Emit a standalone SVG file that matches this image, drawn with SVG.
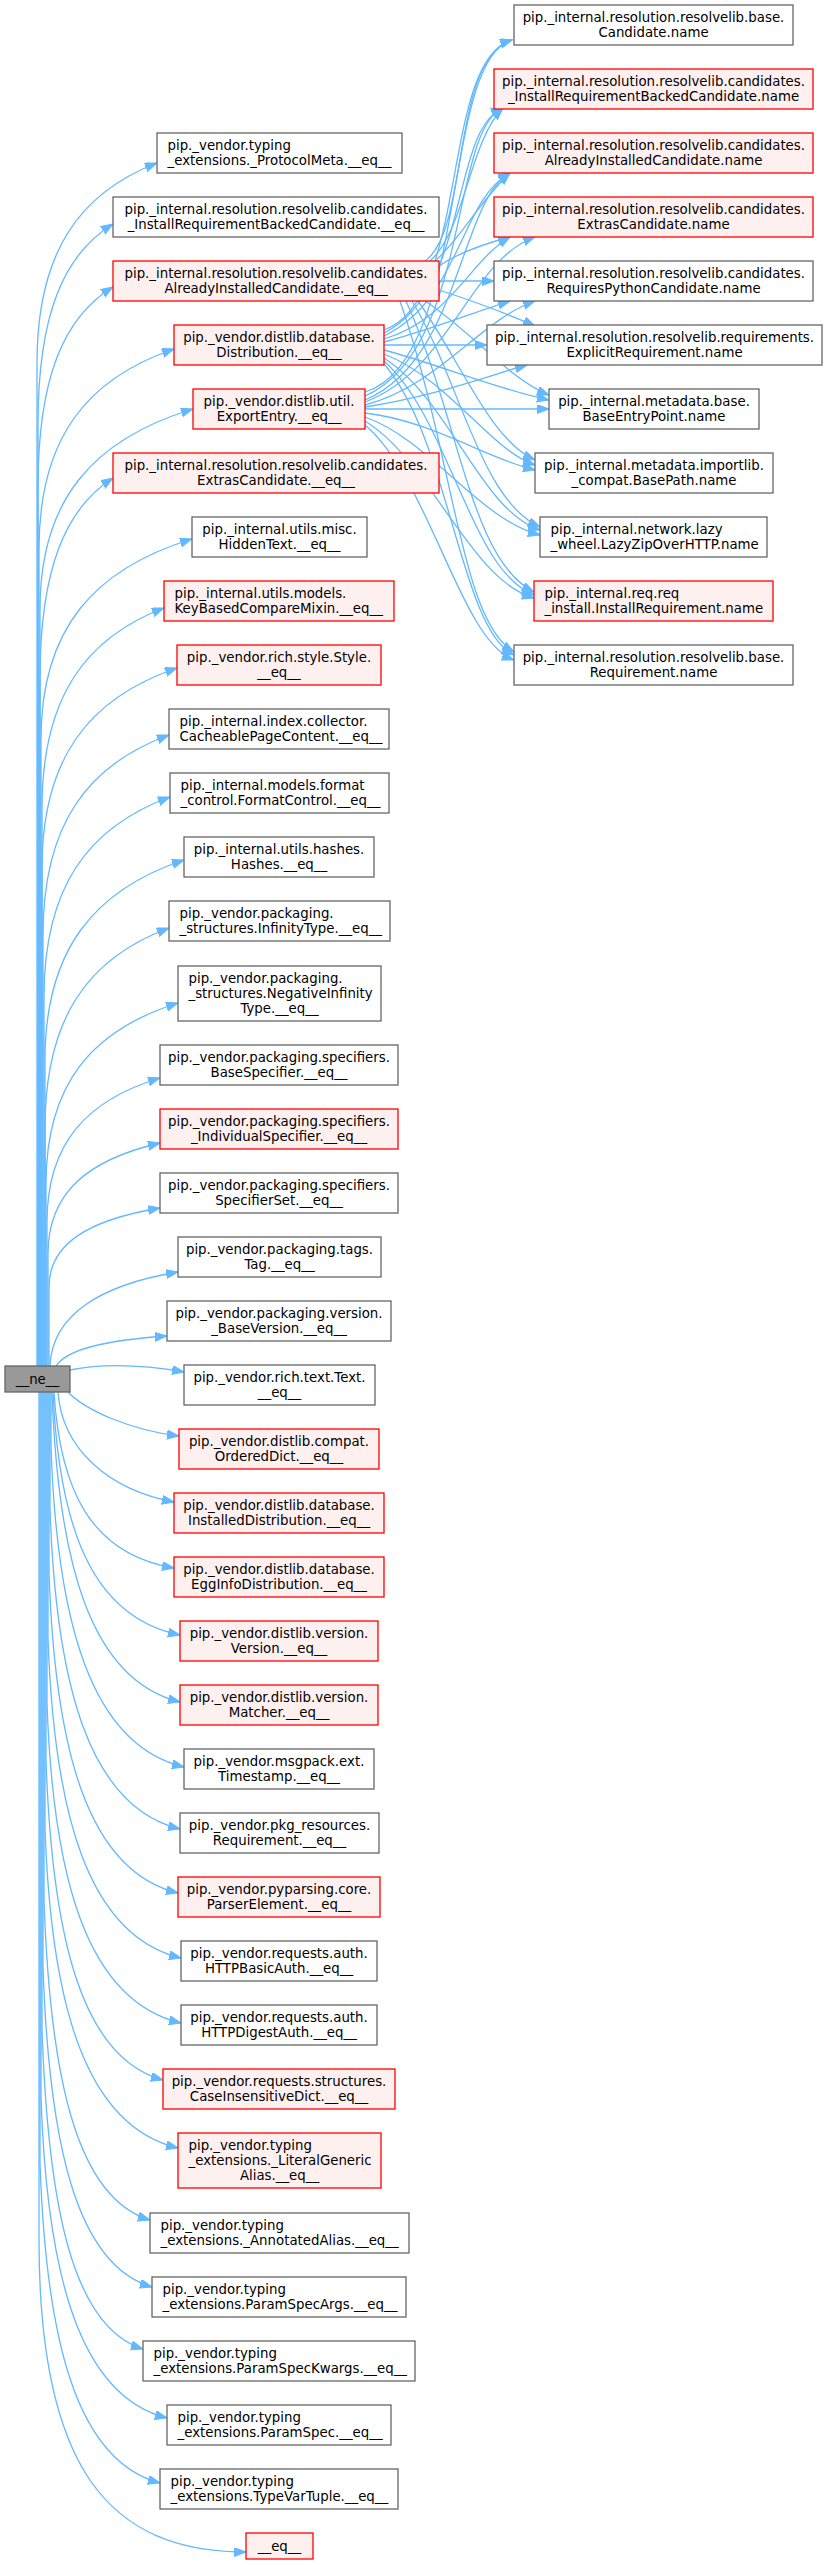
<svg xmlns="http://www.w3.org/2000/svg" width="827" height="2565" viewBox="0 0 827 2565">
<style>
.g{fill:#ffffff;stroke:#666666;stroke-width:1.3}
.r{fill:#fff0f0;stroke:#ff0000;stroke-width:1.3}
.c{fill:#999999;stroke:#666666;stroke-width:1.3}
text{font-family:"DejaVu Sans","Liberation Sans",sans-serif;font-size:13.33px;fill:#000000;text-anchor:middle}
text.l{text-anchor:start}
#edges path{fill:none;stroke:#63b8ff;stroke-width:1.3;marker-end:url(#ah)}
</style>
<defs>
<marker id="ah" markerWidth="13" markerHeight="10" refX="12" refY="4.5" orient="auto" markerUnits="userSpaceOnUse">
<path d="M0,0 L12,4.5 L0,9 z" fill="#63b8ff" stroke="#63b8ff" stroke-width="1"/>
</marker>
</defs>
<rect x="0" y="0" width="827" height="2565" fill="#ffffff"/>
<g id="edges">
<path d="M37,1366 V363 C37,253 79,193 157,163"/>
<path d="M38,1366 V424 C38,314 64,254 113,224"/>
<path d="M38,1366 V487 C38,377 64,317 113,287"/>
<path d="M39,1366 V549 C39,439 86,379 174,349"/>
<path d="M40,1366 V609 C40,499 94,439 193,409"/>
<path d="M40,1366 V678 C40,568 66,508 113,478"/>
<path d="M41,1366 V739 C41,629 94,569 192,539"/>
<path d="M42,1366 V808 C42,698 85,638 164,608"/>
<path d="M42,1366 V868 C42,758 89,698 177,668"/>
<path d="M43,1366 V935 C43,825 87,765 169,735"/>
<path d="M44,1366 V997 C44,887 88,827 170,797"/>
<path d="M45,1366 V1060 C45,950 94,890 184,860"/>
<path d="M45,1366 V1128 C45,1018 88,958 169,928"/>
<path d="M46,1366 V1184 C46,1084 92,1030 178,1003"/>
<path d="M47,1366 V1222 C47,1143 87,1100 160,1078"/>
<path d="M48,1366 V1254 C48,1193 87,1160 160,1143"/>
<path d="M49,1366 V1287 C49,1244 88,1220 160,1208"/>
<path d="M50,1366 C52,1315 100,1285 178,1272"/>
<path d="M56,1366 C68,1348 110,1340 167,1336"/>
<path d="M70,1370 C110,1362 150,1366 184,1372"/>
<path d="M68,1392 C85,1410 130,1430 179,1436"/>
<path d="M58,1392 C62,1450 110,1490 174,1502"/>
<path d="M54,1392 C60,1489 90,1554 174,1568"/>
<path d="M53,1392 C59,1526 91,1617 180,1635"/>
<path d="M52,1392 C58,1562 90,1680 180,1702"/>
<path d="M51,1392 V1447 C57,1623 91,1745 184,1767"/>
<path d="M50,1392 V1509 C56,1685 89,1807 180,1829"/>
<path d="M49,1392 V1573 C55,1749 87,1871 178,1893"/>
<path d="M48,1392 V1638 C54,1814 88,1936 181,1958"/>
<path d="M47,1392 V1703 C53,1879 87,2001 181,2023"/>
<path d="M46,1392 V1760 C52,1936 81,2058 163,2080"/>
<path d="M45,1392 V1828 C51,2004 85,2126 178,2148"/>
<path d="M44,1392 V1900 C50,2076 76,2198 150,2220"/>
<path d="M43,1392 V1967 C49,2143 76,2265 152,2287"/>
<path d="M42,1392 V2029 C48,2205 72,2327 143,2349"/>
<path d="M41,1392 V2098 C47,2274 79,2396 167,2418"/>
<path d="M40,1392 V2163 C46,2339 76,2461 160,2483"/>
<path d="M39,1392 V2240 C39,2470 110,2552 246,2552"/>
<path d="M425,261 C470,230 450,60 512,40"/>
<path d="M430,261 C465,230 470,140 503,108"/>
<path d="M435,261 C460,240 480,200 510,173"/>
<path d="M439,266 C455,255 480,245 510,237"/>
<path d="M439,281 L494,281"/>
<path d="M439,290 C470,300 510,315 535,326"/>
<path d="M425,301 C470,330 510,380 549,395"/>
<path d="M418,301 C460,360 490,440 535,460"/>
<path d="M412,301 C460,380 480,500 540,527"/>
<path d="M406,301 C460,420 470,560 534,592"/>
<path d="M400,301 C455,460 460,620 514,652"/>
<path d="M384,330 C470,300 440,60 512,40"/>
<path d="M384,333 C470,290 450,130 503,108"/>
<path d="M384,336 C460,300 460,200 510,173"/>
<path d="M384,339 C450,320 470,260 510,237"/>
<path d="M384,342 C430,330 480,310 510,301"/>
<path d="M384,345 L487,345"/>
<path d="M384,350 C440,365 500,390 549,400"/>
<path d="M384,354 C450,380 490,450 535,465"/>
<path d="M384,358 C450,400 480,510 540,530"/>
<path d="M384,361 C450,420 470,570 534,595"/>
<path d="M384,364 C450,440 460,630 514,655"/>
<path d="M365,392 C470,360 440,60 512,40"/>
<path d="M365,396 C470,350 450,130 503,108"/>
<path d="M365,400 C460,360 460,200 510,173"/>
<path d="M365,402 C450,370 470,260 535,237"/>
<path d="M365,405 C440,385 480,320 535,301"/>
<path d="M365,407 C440,395 490,375 527,365"/>
<path d="M365,409 L549,409"/>
<path d="M365,413 C430,420 490,460 535,470"/>
<path d="M365,417 C430,440 480,520 540,535"/>
<path d="M365,421 C430,460 470,580 534,598"/>
<path d="M365,425 C430,480 460,640 514,660"/>
</g>
<g id="node-ne"><rect class="c" x="5" y="1366" width="65" height="26"/><text x="37.5" y="1383.5">__ne__</text></g>
<g id="node-m1"><rect class="g" x="157" y="133" width="245" height="40"/><text class="l" x="167.5" y="150">pip._vendor.typing</text><text class="l" x="167.5" y="165">_extensions._ProtocolMeta.__eq__</text></g>
<g id="node-m2"><rect class="g" x="113" y="197" width="326" height="40"/><text x="276" y="214">pip._internal.resolution.resolvelib.candidates.</text><text x="276" y="229">_InstallRequirementBackedCandidate.__eq__</text></g>
<g id="node-m3"><rect class="r" x="113" y="261" width="326" height="40"/><text x="276" y="278">pip._internal.resolution.resolvelib.candidates.</text><text x="276" y="293">AlreadyInstalledCandidate.__eq__</text></g>
<g id="node-m4"><rect class="r" x="174" y="325" width="210" height="40"/><text x="279" y="342">pip._vendor.distlib.database.</text><text x="279" y="357">Distribution.__eq__</text></g>
<g id="node-m5"><rect class="r" x="193" y="389" width="172" height="40"/><text x="279" y="406">pip._vendor.distlib.util.</text><text x="279" y="421">ExportEntry.__eq__</text></g>
<g id="node-m6"><rect class="r" x="113" y="453" width="326" height="40"/><text x="276" y="470">pip._internal.resolution.resolvelib.candidates.</text><text x="276" y="485">ExtrasCandidate.__eq__</text></g>
<g id="node-m7"><rect class="g" x="192" y="517" width="175" height="40"/><text x="279.5" y="534">pip._internal.utils.misc.</text><text x="279.5" y="549">HiddenText.__eq__</text></g>
<g id="node-m8"><rect class="r" x="164" y="581" width="230" height="40"/><text class="l" x="174.5" y="598">pip._internal.utils.models.</text><text class="l" x="174.5" y="613">KeyBasedCompareMixin.__eq__</text></g>
<g id="node-m9"><rect class="r" x="177" y="645" width="204" height="40"/><text x="279" y="662">pip._vendor.rich.style.Style.</text><text x="279" y="677">__eq__</text></g>
<g id="node-m10"><rect class="g" x="169" y="709" width="220" height="40"/><text class="l" x="179.5" y="726">pip._internal.index.collector.</text><text class="l" x="179.5" y="741">CacheablePageContent.__eq__</text></g>
<g id="node-m11"><rect class="g" x="170" y="773" width="219" height="40"/><text class="l" x="180.5" y="790">pip._internal.models.format</text><text class="l" x="180.5" y="805">_control.FormatControl.__eq__</text></g>
<g id="node-m12"><rect class="g" x="184" y="837" width="190" height="40"/><text x="279" y="854">pip._internal.utils.hashes.</text><text x="279" y="869">Hashes.__eq__</text></g>
<g id="node-m13"><rect class="g" x="169" y="901" width="221" height="40"/><text class="l" x="179.5" y="918">pip._vendor.packaging.</text><text class="l" x="179.5" y="933">_structures.InfinityType.__eq__</text></g>
<g id="node-m14"><rect class="g" x="178" y="966" width="203" height="55"/><text class="l" x="188.5" y="982.5">pip._vendor.packaging.</text><text class="l" x="188.5" y="997.5">_structures.NegativeInfinity</text><text x="279.5" y="1012.5">Type.__eq__</text></g>
<g id="node-m15"><rect class="g" x="160" y="1045" width="238" height="40"/><text x="279" y="1062">pip._vendor.packaging.specifiers.</text><text x="279" y="1077">BaseSpecifier.__eq__</text></g>
<g id="node-m16"><rect class="r" x="160" y="1109" width="238" height="40"/><text x="279" y="1126">pip._vendor.packaging.specifiers.</text><text x="279" y="1141">_IndividualSpecifier.__eq__</text></g>
<g id="node-m17"><rect class="g" x="160" y="1173" width="238" height="40"/><text x="279" y="1190">pip._vendor.packaging.specifiers.</text><text x="279" y="1205">SpecifierSet.__eq__</text></g>
<g id="node-m18"><rect class="g" x="178" y="1237" width="203" height="40"/><text x="279.5" y="1254">pip._vendor.packaging.tags.</text><text x="279.5" y="1269">Tag.__eq__</text></g>
<g id="node-m19"><rect class="g" x="167" y="1301" width="224" height="40"/><text x="279" y="1318">pip._vendor.packaging.version.</text><text x="279" y="1333">_BaseVersion.__eq__</text></g>
<g id="node-m20"><rect class="g" x="184" y="1365" width="191" height="40"/><text x="279.5" y="1382">pip._vendor.rich.text.Text.</text><text x="279.5" y="1397">__eq__</text></g>
<g id="node-m21"><rect class="r" x="179" y="1429" width="200" height="40"/><text x="279" y="1446">pip._vendor.distlib.compat.</text><text x="279" y="1461">OrderedDict.__eq__</text></g>
<g id="node-m22"><rect class="r" x="174" y="1493" width="210" height="40"/><text x="279" y="1510">pip._vendor.distlib.database.</text><text x="279" y="1525">InstalledDistribution.__eq__</text></g>
<g id="node-m23"><rect class="r" x="174" y="1557" width="210" height="40"/><text x="279" y="1574">pip._vendor.distlib.database.</text><text x="279" y="1589">EggInfoDistribution.__eq__</text></g>
<g id="node-m24"><rect class="r" x="180" y="1621" width="198" height="40"/><text x="279" y="1638">pip._vendor.distlib.version.</text><text x="279" y="1653">Version.__eq__</text></g>
<g id="node-m25"><rect class="r" x="180" y="1685" width="198" height="40"/><text x="279" y="1702">pip._vendor.distlib.version.</text><text x="279" y="1717">Matcher.__eq__</text></g>
<g id="node-m26"><rect class="g" x="184" y="1749" width="190" height="40"/><text x="279" y="1766">pip._vendor.msgpack.ext.</text><text x="279" y="1781">Timestamp.__eq__</text></g>
<g id="node-m27"><rect class="g" x="180" y="1813" width="199" height="40"/><text x="279.5" y="1830">pip._vendor.pkg_resources.</text><text x="279.5" y="1845">Requirement.__eq__</text></g>
<g id="node-m28"><rect class="r" x="178" y="1877" width="202" height="40"/><text x="279" y="1894">pip._vendor.pyparsing.core.</text><text x="279" y="1909">ParserElement.__eq__</text></g>
<g id="node-m29"><rect class="g" x="181" y="1941" width="196" height="40"/><text x="279" y="1958">pip._vendor.requests.auth.</text><text x="279" y="1973">HTTPBasicAuth.__eq__</text></g>
<g id="node-m30"><rect class="g" x="181" y="2005" width="196" height="40"/><text x="279" y="2022">pip._vendor.requests.auth.</text><text x="279" y="2037">HTTPDigestAuth.__eq__</text></g>
<g id="node-m31"><rect class="r" x="163" y="2069" width="232" height="40"/><text x="279" y="2086">pip._vendor.requests.structures.</text><text x="279" y="2101">CaseInsensitiveDict.__eq__</text></g>
<g id="node-m32"><rect class="r" x="178" y="2133" width="203" height="55"/><text class="l" x="188.5" y="2149.5">pip._vendor.typing</text><text class="l" x="188.5" y="2164.5">_extensions._LiteralGeneric</text><text x="279.5" y="2179.5">Alias.__eq__</text></g>
<g id="node-m33"><rect class="g" x="150" y="2213" width="259" height="40"/><text class="l" x="160.5" y="2230">pip._vendor.typing</text><text class="l" x="160.5" y="2245">_extensions._AnnotatedAlias.__eq__</text></g>
<g id="node-m34"><rect class="g" x="152" y="2277" width="254" height="40"/><text class="l" x="162.5" y="2294">pip._vendor.typing</text><text class="l" x="162.5" y="2309">_extensions.ParamSpecArgs.__eq__</text></g>
<g id="node-m35"><rect class="g" x="143" y="2341" width="272" height="40"/><text class="l" x="153.5" y="2358">pip._vendor.typing</text><text class="l" x="153.5" y="2373">_extensions.ParamSpecKwargs.__eq__</text></g>
<g id="node-m36"><rect class="g" x="167" y="2405" width="224" height="40"/><text class="l" x="177.5" y="2422">pip._vendor.typing</text><text class="l" x="177.5" y="2437">_extensions.ParamSpec.__eq__</text></g>
<g id="node-m37"><rect class="g" x="160" y="2469" width="238" height="40"/><text class="l" x="170.5" y="2486">pip._vendor.typing</text><text class="l" x="170.5" y="2501">_extensions.TypeVarTuple.__eq__</text></g>
<g id="node-m38"><rect class="r" x="246" y="2533" width="67" height="26"/><text x="279.5" y="2550.5">__eq__</text></g>
<g id="node-r1"><rect class="g" x="514" y="5" width="279" height="40"/><text x="653.5" y="22">pip._internal.resolution.resolvelib.base.</text><text x="653.5" y="37">Candidate.name</text></g>
<g id="node-r2"><rect class="r" x="494" y="69" width="319" height="40"/><text x="653.5" y="86">pip._internal.resolution.resolvelib.candidates.</text><text x="653.5" y="101">_InstallRequirementBackedCandidate.name</text></g>
<g id="node-r3"><rect class="r" x="494" y="133" width="319" height="40"/><text x="653.5" y="150">pip._internal.resolution.resolvelib.candidates.</text><text x="653.5" y="165">AlreadyInstalledCandidate.name</text></g>
<g id="node-r4"><rect class="r" x="494" y="197" width="319" height="40"/><text x="653.5" y="214">pip._internal.resolution.resolvelib.candidates.</text><text x="653.5" y="229">ExtrasCandidate.name</text></g>
<g id="node-r5"><rect class="g" x="494" y="261" width="319" height="40"/><text x="653.5" y="278">pip._internal.resolution.resolvelib.candidates.</text><text x="653.5" y="293">RequiresPythonCandidate.name</text></g>
<g id="node-r6"><rect class="g" x="487" y="325" width="335" height="40"/><text x="654.5" y="342">pip._internal.resolution.resolvelib.requirements.</text><text x="654.5" y="357">ExplicitRequirement.name</text></g>
<g id="node-r7"><rect class="g" x="549" y="389" width="210" height="40"/><text x="654" y="406">pip._internal.metadata.base.</text><text x="654" y="421">BaseEntryPoint.name</text></g>
<g id="node-r8"><rect class="g" x="535" y="453" width="238" height="40"/><text x="654" y="470">pip._internal.metadata.importlib.</text><text x="654" y="485">_compat.BasePath.name</text></g>
<g id="node-r9"><rect class="g" x="540" y="517" width="227" height="40"/><text class="l" x="550.5" y="534">pip._internal.network.lazy</text><text class="l" x="550.5" y="549">_wheel.LazyZipOverHTTP.name</text></g>
<g id="node-r10"><rect class="r" x="534" y="581" width="239" height="40"/><text class="l" x="544.5" y="598">pip._internal.req.req</text><text class="l" x="544.5" y="613">_install.InstallRequirement.name</text></g>
<g id="node-r11"><rect class="g" x="514" y="645" width="279" height="40"/><text x="653.5" y="662">pip._internal.resolution.resolvelib.base.</text><text x="653.5" y="677">Requirement.name</text></g>
</svg>
